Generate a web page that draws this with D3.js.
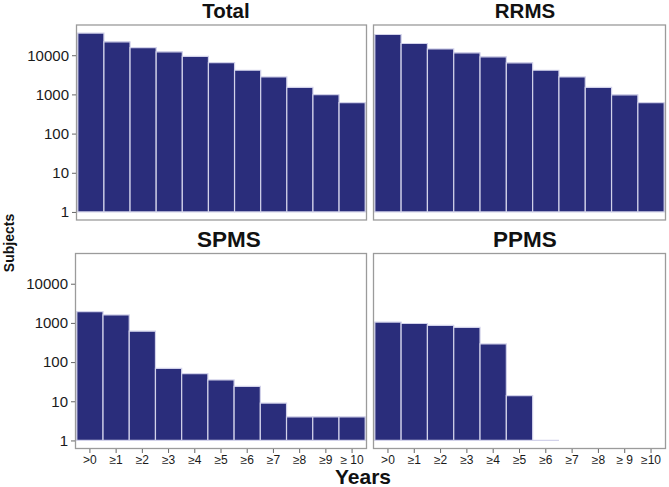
<!DOCTYPE html>
<html>
<head>
<meta charset="utf-8">
<script src="https://cdn.jsdelivr.net/npm/d3@7"></script>
<style>
  html, body { margin: 0; padding: 0; background: #fff; }
  svg { display: block; font-family: "Liberation Sans", Arial, Helvetica, sans-serif; }
</style>
</head>
<body>
<svg id="chart" width="669" height="487"></svg>
<script>
// ---- data ----
const panelTitles = ["Total", "RRMS", "SPMS", "PPMS"];
const spmsLabels = [">0", "≥1", "≥2", "≥3", "≥4", "≥5", "≥6", "≥7", "≥8", "≥9", "≥ 10"];
const ppmsLabels = [">0", "≥1", "≥2", "≥3", "≥4", "≥5", "≥6", "≥7", "≥8", "≥ 9", "≥10"];
const totalValues = [36800, 22000, 15700, 12200, 9300, 6500, 4130, 2800, 1510, 980, 615];
const rrmsValues  = [33800, 19900, 14500, 11500, 9100, 6400, 4130, 2790, 1505, 978, 613];
const spmsValues  = [1950, 1600, 615, 69, 51, 35, 24, 9, 4, 4, 4];
const ppmsValues  = [1050, 965, 860, 765, 290, 14, 1, 0, 0, 0, 0];
const yTickValues = [1, 10, 100, 1000, 10000];
const xTitle = "Years";
const yTitle = "Subjects";

// ---- layout ----
const svg = d3.select("#chart");
const barColor = "#2a2d7b";
const panels = [
  { title: panelTitles[0], values: totalValues, labels: null,       x0: 76.5,  x1: 366.5, y0: 25,    y1: 220,   showY: true,  titleSize: 20.5, titleDx: 4.5, titleDy: 7.5 },
  { title: panelTitles[1], values: rrmsValues,  labels: null,       x0: 373.5, x1: 665.5, y0: 25,    y1: 220,   showY: false, titleSize: 20.5, titleDx: 5.5, titleDy: 7.5 },
  { title: panelTitles[2], values: spmsValues,  labels: spmsLabels, x0: 75.5,  x1: 366.5, y0: 253.5, y1: 448.5, showY: true,  titleSize: 22.5, titleDx: 8,   titleDy: 7 },
  { title: panelTitles[3], values: ppmsValues,  labels: ppmsLabels, x0: 373.5, x1: 665.5, y0: 253.5, y1: 448.5, showY: false, titleSize: 22.5, titleDx: 5.5, titleDy: 7 }
];

const allMax = d3.max([...totalValues, ...rrmsValues, ...spmsValues, ...ppmsValues]);
const lmax = Math.log10(allMax);
const ex = 0.045 * lmax;
const logDomain = [Math.pow(10, -ex), Math.pow(10, lmax + ex)];

panels.forEach(p => {
  const g = svg.append("g");
  const idx = d3.range(p.values.length);
  const x = d3.scaleBand().domain(idx).range([p.x0, p.x1]).paddingInner(0).paddingOuter(0.05);
  const y = d3.scaleLog().domain(logDomain).range([p.y1, p.y0]);

  // bars (paths so that a zero-height bar still shows its outline)
  g.selectAll("path.bar")
    .data(idx.filter(i => p.values[i] > 0))
    .join("path")
    .attr("class", "bar")
    .attr("d", i => {
      const bx = x(i), bw = x.bandwidth();
      const top = y(p.values[i]), base = y(1);
      return `M${bx},${base}V${top}H${bx + bw}V${base}Z`;
    })
    .attr("fill", barColor)
    .attr("stroke", "#d2d2ea")
    .attr("stroke-width", 1.2);

  // panel border
  g.append("rect")
    .attr("x", p.x0).attr("y", p.y0)
    .attr("width", p.x1 - p.x0).attr("height", p.y1 - p.y0)
    .attr("fill", "none").attr("stroke", "#9b9b9b").attr("stroke-width", 1.3);

  // title
  g.append("text")
    .attr("x", (p.x0 + p.x1) / 2 + p.titleDx)
    .attr("y", p.y0 - p.titleDy)
    .attr("text-anchor", "middle")
    .attr("font-weight", "bold")
    .attr("font-size", p.titleSize)
    .attr("fill", "#111")
    .text(p.title);

  if (p.showY) {
    const ay = g.append("g").attr("transform", `translate(${p.x0 - 0.5},0)`)
      .call(d3.axisLeft(y).tickValues(yTickValues).tickFormat(d3.format("d")).tickSize(4).tickPadding(3));
    ay.select(".domain").remove();
    ay.selectAll(".tick line").attr("stroke", "#666");
    ay.selectAll(".tick text").attr("font-size", 15).attr("fill", "#1a1a1a")
      .attr("font-family", "Liberation Sans, Arial, sans-serif");
  }

  if (p.labels) {
    const xl = d3.scaleBand().domain(p.labels).range([p.x0, p.x1]).paddingInner(0).paddingOuter(0.05);
    const ax = g.append("g").attr("transform", `translate(0,${p.y1 + 0.5})`)
      .call(d3.axisBottom(xl).tickSize(4).tickPadding(2));
    ax.select(".domain").remove();
    ax.selectAll(".tick line").attr("stroke", "#666");
    ax.selectAll(".tick text").attr("font-size", 12).attr("fill", "#1a1a1a")
      .attr("font-family", "Liberation Sans, Arial, sans-serif");
  }
});

// axis titles
svg.append("text")
  .attr("x", 363).attr("y", 484)
  .attr("text-anchor", "middle")
  .attr("font-weight", "bold")
  .attr("font-size", 21)
  .attr("fill", "#111")
  .text(xTitle);

svg.append("text")
  .attr("transform", "translate(14,243) rotate(-90)")
  .attr("text-anchor", "middle")
  .attr("font-weight", "bold")
  .attr("font-size", 14)
  .attr("fill", "#111")
  .text(yTitle);
</script>
</body>
</html>
